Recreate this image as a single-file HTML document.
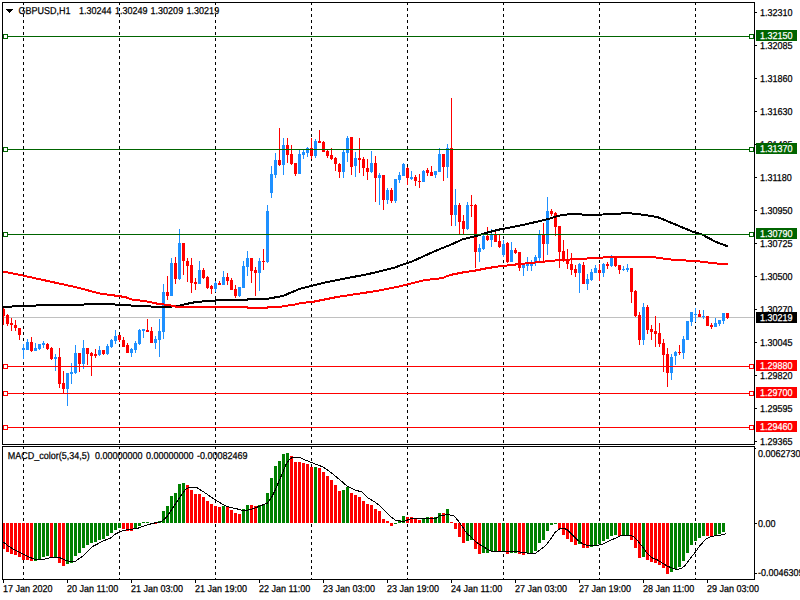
<!DOCTYPE html>
<html><head><meta charset="utf-8"><style>
html,body{margin:0;padding:0;background:#fff;width:800px;height:600px;overflow:hidden}
svg{display:block}
text{font-family:"Liberation Sans",sans-serif;font-size:10px;stroke:currentColor;stroke-width:0.25px;text-rendering:geometricPrecision}
</style></head><body>
<svg width="800" height="600" viewBox="0 0 800 600" shape-rendering="crispEdges">
<rect x="0" y="0" width="800" height="600" fill="#fff"/>
<line x1="23.5" y1="2" x2="23.5" y2="579" stroke="#000" stroke-width="1" stroke-dasharray="3 3"/>
<line x1="119.5" y1="2" x2="119.5" y2="579" stroke="#000" stroke-width="1" stroke-dasharray="3 3"/>
<line x1="215.5" y1="2" x2="215.5" y2="579" stroke="#000" stroke-width="1" stroke-dasharray="3 3"/>
<line x1="311.5" y1="2" x2="311.5" y2="579" stroke="#000" stroke-width="1" stroke-dasharray="3 3"/>
<line x1="407.5" y1="2" x2="407.5" y2="579" stroke="#000" stroke-width="1" stroke-dasharray="3 3"/>
<line x1="503.5" y1="2" x2="503.5" y2="579" stroke="#000" stroke-width="1" stroke-dasharray="3 3"/>
<line x1="599.5" y1="2" x2="599.5" y2="579" stroke="#000" stroke-width="1" stroke-dasharray="3 3"/>
<line x1="695.5" y1="2" x2="695.5" y2="579" stroke="#000" stroke-width="1" stroke-dasharray="3 3"/>
<rect x="3" y="317" width="751" height="1" fill="#C0C0C0"/>
<rect x="3" y="308.0" width="1" height="17.0" fill="#FF0000"/>
<rect x="2" y="309.0" width="3" height="7.0" fill="#FF0000"/>
<rect x="7" y="314.0" width="1" height="12.0" fill="#FF0000"/>
<rect x="6" y="315.0" width="3" height="9.0" fill="#FF0000"/>
<rect x="11" y="318.0" width="1" height="13.0" fill="#FF0000"/>
<rect x="10" y="323.0" width="3" height="2.0" fill="#FF0000"/>
<rect x="15" y="320.0" width="1" height="11.0" fill="#FF0000"/>
<rect x="14" y="325.0" width="3" height="3.0" fill="#FF0000"/>
<rect x="19" y="328.0" width="1" height="12.0" fill="#FF0000"/>
<rect x="18" y="328.0" width="3" height="7.0" fill="#FF0000"/>
<rect x="23" y="344.0" width="1" height="15.0" fill="#1E90FF"/>
<rect x="22" y="348.0" width="3" height="2.0" fill="#1E90FF"/>
<rect x="27" y="339.0" width="1" height="11.0" fill="#1E90FF"/>
<rect x="26" y="342.0" width="3" height="8.0" fill="#1E90FF"/>
<rect x="31" y="337.0" width="1" height="15.0" fill="#FF0000"/>
<rect x="30" y="342.0" width="3" height="9.0" fill="#FF0000"/>
<rect x="35" y="343.0" width="1" height="8.0" fill="#1E90FF"/>
<rect x="34" y="348.0" width="3" height="3.0" fill="#1E90FF"/>
<rect x="39" y="344.0" width="1" height="6.0" fill="#1E90FF"/>
<rect x="38" y="344.0" width="3" height="5.0" fill="#1E90FF"/>
<rect x="43" y="341.0" width="1" height="7.0" fill="#1E90FF"/>
<rect x="42" y="343.0" width="3" height="2.0" fill="#1E90FF"/>
<rect x="47" y="343.0" width="1" height="7.0" fill="#FF0000"/>
<rect x="46" y="344.0" width="3" height="5.0" fill="#FF0000"/>
<rect x="51" y="347.0" width="1" height="13.0" fill="#FF0000"/>
<rect x="50" y="348.0" width="3" height="11.0" fill="#FF0000"/>
<rect x="55" y="354.0" width="1" height="17.0" fill="#1E90FF"/>
<rect x="54" y="357.0" width="3" height="2.0" fill="#1E90FF"/>
<rect x="59" y="348.0" width="1" height="40.0" fill="#FF0000"/>
<rect x="58" y="357.0" width="3" height="27.0" fill="#FF0000"/>
<rect x="63" y="371.0" width="1" height="22.0" fill="#FF0000"/>
<rect x="62" y="383.0" width="3" height="6.0" fill="#FF0000"/>
<rect x="67" y="373.0" width="1" height="33.0" fill="#1E90FF"/>
<rect x="66" y="373.0" width="3" height="16.0" fill="#1E90FF"/>
<rect x="71" y="363.0" width="1" height="21.0" fill="#1E90FF"/>
<rect x="70" y="372.0" width="3" height="2.0" fill="#1E90FF"/>
<rect x="75" y="345.0" width="1" height="29.0" fill="#1E90FF"/>
<rect x="74" y="353.0" width="3" height="20.0" fill="#1E90FF"/>
<rect x="79" y="353.0" width="1" height="19.0" fill="#FF0000"/>
<rect x="78" y="353.0" width="3" height="11.0" fill="#FF0000"/>
<rect x="83" y="340.0" width="1" height="29.0" fill="#1E90FF"/>
<rect x="82" y="348.0" width="3" height="16.0" fill="#1E90FF"/>
<rect x="87" y="348.0" width="1" height="17.0" fill="#FF0000"/>
<rect x="86" y="348.0" width="3" height="6.0" fill="#FF0000"/>
<rect x="91" y="352.0" width="1" height="24.0" fill="#FF0000"/>
<rect x="90" y="353.0" width="3" height="3.0" fill="#FF0000"/>
<rect x="95" y="349.0" width="1" height="9.0" fill="#FF0000"/>
<rect x="94" y="354.0" width="3" height="2.0" fill="#FF0000"/>
<rect x="99" y="346.0" width="1" height="10.0" fill="#1E90FF"/>
<rect x="98" y="350.0" width="3" height="5.0" fill="#1E90FF"/>
<rect x="103" y="350.0" width="1" height="5.0" fill="#FF0000"/>
<rect x="102" y="350.0" width="3" height="4.0" fill="#FF0000"/>
<rect x="107" y="344.0" width="1" height="11.0" fill="#1E90FF"/>
<rect x="106" y="346.0" width="3" height="8.0" fill="#1E90FF"/>
<rect x="111" y="339.0" width="1" height="9.0" fill="#1E90FF"/>
<rect x="110" y="340.0" width="3" height="7.0" fill="#1E90FF"/>
<rect x="115" y="330.0" width="1" height="14.0" fill="#1E90FF"/>
<rect x="114" y="336.0" width="3" height="5.0" fill="#1E90FF"/>
<rect x="119" y="335.0" width="1" height="7.0" fill="#FF0000"/>
<rect x="118" y="335.0" width="3" height="5.0" fill="#FF0000"/>
<rect x="123" y="337.0" width="1" height="10.0" fill="#FF0000"/>
<rect x="122" y="340.0" width="3" height="7.0" fill="#FF0000"/>
<rect x="127" y="343.0" width="1" height="10.0" fill="#FF0000"/>
<rect x="126" y="345.0" width="3" height="8.0" fill="#FF0000"/>
<rect x="131" y="348.0" width="1" height="9.0" fill="#1E90FF"/>
<rect x="130" y="349.0" width="3" height="4.0" fill="#1E90FF"/>
<rect x="135" y="341.0" width="1" height="12.0" fill="#1E90FF"/>
<rect x="134" y="343.0" width="3" height="7.0" fill="#1E90FF"/>
<rect x="139" y="329.0" width="1" height="16.0" fill="#1E90FF"/>
<rect x="138" y="330.0" width="3" height="14.0" fill="#1E90FF"/>
<rect x="143" y="329.0" width="1" height="9.0" fill="#1E90FF"/>
<rect x="142" y="329.0" width="3" height="2.0" fill="#1E90FF"/>
<rect x="147" y="319.0" width="1" height="13.0" fill="#FF0000"/>
<rect x="146" y="330.0" width="3" height="2.0" fill="#FF0000"/>
<rect x="151" y="327.0" width="1" height="16.0" fill="#FF0000"/>
<rect x="150" y="331.0" width="3" height="12.0" fill="#FF0000"/>
<rect x="155" y="336.0" width="1" height="13.0" fill="#1E90FF"/>
<rect x="154" y="339.0" width="3" height="4.0" fill="#1E90FF"/>
<rect x="159" y="319.0" width="1" height="38.0" fill="#1E90FF"/>
<rect x="158" y="331.0" width="3" height="9.0" fill="#1E90FF"/>
<rect x="163" y="284.0" width="1" height="55.0" fill="#1E90FF"/>
<rect x="162" y="292.0" width="3" height="40.0" fill="#1E90FF"/>
<rect x="167" y="276.0" width="1" height="24.0" fill="#FF0000"/>
<rect x="166" y="292.0" width="3" height="4.0" fill="#FF0000"/>
<rect x="171" y="258.0" width="1" height="38.0" fill="#1E90FF"/>
<rect x="170" y="263.0" width="3" height="33.0" fill="#1E90FF"/>
<rect x="175" y="257.0" width="1" height="27.0" fill="#FF0000"/>
<rect x="174" y="263.0" width="3" height="16.0" fill="#FF0000"/>
<rect x="179" y="229.0" width="1" height="51.0" fill="#1E90FF"/>
<rect x="178" y="243.0" width="3" height="36.0" fill="#1E90FF"/>
<rect x="183" y="243.0" width="1" height="32.0" fill="#FF0000"/>
<rect x="182" y="243.0" width="3" height="18.0" fill="#FF0000"/>
<rect x="187" y="258.0" width="1" height="24.0" fill="#FF0000"/>
<rect x="186" y="261.0" width="3" height="5.0" fill="#FF0000"/>
<rect x="191" y="258.0" width="1" height="35.0" fill="#FF0000"/>
<rect x="190" y="265.0" width="3" height="18.0" fill="#FF0000"/>
<rect x="195" y="278.0" width="1" height="12.0" fill="#FF0000"/>
<rect x="194" y="282.0" width="3" height="2.0" fill="#FF0000"/>
<rect x="199" y="261.0" width="1" height="23.0" fill="#1E90FF"/>
<rect x="198" y="270.0" width="3" height="14.0" fill="#1E90FF"/>
<rect x="203" y="268.0" width="1" height="11.0" fill="#FF0000"/>
<rect x="202" y="270.0" width="3" height="8.0" fill="#FF0000"/>
<rect x="207" y="276.0" width="1" height="13.0" fill="#FF0000"/>
<rect x="206" y="277.0" width="3" height="11.0" fill="#FF0000"/>
<rect x="211" y="285.0" width="1" height="9.0" fill="#FF0000"/>
<rect x="210" y="286.0" width="3" height="3.0" fill="#FF0000"/>
<rect x="215" y="281.0" width="1" height="11.0" fill="#1E90FF"/>
<rect x="214" y="283.0" width="3" height="6.0" fill="#1E90FF"/>
<rect x="219" y="281.0" width="1" height="4.0" fill="#FF0000"/>
<rect x="218" y="283.0" width="3" height="2.0" fill="#FF0000"/>
<rect x="223" y="271.0" width="1" height="14.0" fill="#1E90FF"/>
<rect x="222" y="277.0" width="3" height="8.0" fill="#1E90FF"/>
<rect x="227" y="273.0" width="1" height="12.0" fill="#FF0000"/>
<rect x="226" y="277.0" width="3" height="4.0" fill="#FF0000"/>
<rect x="231" y="278.0" width="1" height="12.0" fill="#FF0000"/>
<rect x="230" y="280.0" width="3" height="10.0" fill="#FF0000"/>
<rect x="235" y="285.0" width="1" height="13.0" fill="#FF0000"/>
<rect x="234" y="289.0" width="3" height="7.0" fill="#FF0000"/>
<rect x="239" y="287.0" width="1" height="10.0" fill="#1E90FF"/>
<rect x="238" y="287.0" width="3" height="9.0" fill="#1E90FF"/>
<rect x="243" y="261.0" width="1" height="27.0" fill="#1E90FF"/>
<rect x="242" y="266.0" width="3" height="22.0" fill="#1E90FF"/>
<rect x="247" y="251.0" width="1" height="25.0" fill="#1E90FF"/>
<rect x="246" y="258.0" width="3" height="9.0" fill="#1E90FF"/>
<rect x="251" y="258.0" width="1" height="25.0" fill="#FF0000"/>
<rect x="250" y="258.0" width="3" height="13.0" fill="#FF0000"/>
<rect x="255" y="267.0" width="1" height="29.0" fill="#FF0000"/>
<rect x="254" y="270.0" width="3" height="3.0" fill="#FF0000"/>
<rect x="259" y="258.0" width="1" height="33.0" fill="#1E90FF"/>
<rect x="258" y="261.0" width="3" height="12.0" fill="#1E90FF"/>
<rect x="263" y="249.0" width="1" height="21.0" fill="#FF0000"/>
<rect x="262" y="261.0" width="3" height="1" fill="#FF0000"/>
<rect x="267" y="205.0" width="1" height="58.0" fill="#1E90FF"/>
<rect x="266" y="211.0" width="3" height="51.0" fill="#1E90FF"/>
<rect x="271" y="166.0" width="1" height="32.0" fill="#1E90FF"/>
<rect x="270" y="174.0" width="3" height="19.0" fill="#1E90FF"/>
<rect x="275" y="153.0" width="1" height="25.0" fill="#1E90FF"/>
<rect x="274" y="160.0" width="3" height="15.0" fill="#1E90FF"/>
<rect x="279" y="128.0" width="1" height="38.0" fill="#FF0000"/>
<rect x="278" y="160.0" width="3" height="5.0" fill="#FF0000"/>
<rect x="283" y="138.0" width="1" height="37.0" fill="#1E90FF"/>
<rect x="282" y="145.0" width="3" height="20.0" fill="#1E90FF"/>
<rect x="287" y="138.0" width="1" height="25.0" fill="#FF0000"/>
<rect x="286" y="145.0" width="3" height="10.0" fill="#FF0000"/>
<rect x="291" y="145.0" width="1" height="20.0" fill="#FF0000"/>
<rect x="290" y="154.0" width="3" height="10.0" fill="#FF0000"/>
<rect x="295" y="163.0" width="1" height="13.0" fill="#FF0000"/>
<rect x="294" y="163.0" width="3" height="11.0" fill="#FF0000"/>
<rect x="299" y="150.0" width="1" height="24.0" fill="#1E90FF"/>
<rect x="298" y="154.0" width="3" height="20.0" fill="#1E90FF"/>
<rect x="303" y="150.0" width="1" height="9.0" fill="#1E90FF"/>
<rect x="302" y="152.0" width="3" height="3.0" fill="#1E90FF"/>
<rect x="307" y="147.0" width="1" height="10.0" fill="#1E90FF"/>
<rect x="306" y="148.0" width="3" height="5.0" fill="#1E90FF"/>
<rect x="311" y="138.0" width="1" height="21.0" fill="#FF0000"/>
<rect x="310" y="148.0" width="3" height="8.0" fill="#FF0000"/>
<rect x="315" y="139.0" width="1" height="19.0" fill="#1E90FF"/>
<rect x="314" y="141.0" width="3" height="15.0" fill="#1E90FF"/>
<rect x="319" y="130.0" width="1" height="13.0" fill="#FF0000"/>
<rect x="318" y="141.0" width="3" height="2.0" fill="#FF0000"/>
<rect x="323" y="141.0" width="1" height="11.0" fill="#FF0000"/>
<rect x="322" y="142.0" width="3" height="10.0" fill="#FF0000"/>
<rect x="327" y="150.0" width="1" height="8.0" fill="#FF0000"/>
<rect x="326" y="151.0" width="3" height="5.0" fill="#FF0000"/>
<rect x="331" y="148.0" width="1" height="12.0" fill="#FF0000"/>
<rect x="330" y="155.0" width="3" height="4.0" fill="#FF0000"/>
<rect x="335" y="157.0" width="1" height="14.0" fill="#FF0000"/>
<rect x="334" y="158.0" width="3" height="6.0" fill="#FF0000"/>
<rect x="339" y="163.0" width="1" height="15.0" fill="#FF0000"/>
<rect x="338" y="164.0" width="3" height="8.0" fill="#FF0000"/>
<rect x="343" y="150.0" width="1" height="28.0" fill="#1E90FF"/>
<rect x="342" y="152.0" width="3" height="20.0" fill="#1E90FF"/>
<rect x="347" y="136.0" width="1" height="26.0" fill="#1E90FF"/>
<rect x="346" y="138.0" width="3" height="15.0" fill="#1E90FF"/>
<rect x="351" y="137.0" width="1" height="38.0" fill="#FF0000"/>
<rect x="350" y="137.0" width="3" height="30.0" fill="#FF0000"/>
<rect x="355" y="152.0" width="1" height="25.0" fill="#1E90FF"/>
<rect x="354" y="158.0" width="3" height="8.0" fill="#1E90FF"/>
<rect x="359" y="138.0" width="1" height="35.0" fill="#FF0000"/>
<rect x="358" y="158.0" width="3" height="2.0" fill="#FF0000"/>
<rect x="363" y="157.0" width="1" height="19.0" fill="#FF0000"/>
<rect x="362" y="159.0" width="3" height="9.0" fill="#FF0000"/>
<rect x="367" y="159.0" width="1" height="21.0" fill="#FF0000"/>
<rect x="366" y="168.0" width="3" height="4.0" fill="#FF0000"/>
<rect x="371" y="151.0" width="1" height="22.0" fill="#1E90FF"/>
<rect x="370" y="163.0" width="3" height="9.0" fill="#1E90FF"/>
<rect x="375" y="156.0" width="1" height="46.0" fill="#FF0000"/>
<rect x="374" y="163.0" width="3" height="15.0" fill="#FF0000"/>
<rect x="379" y="173.0" width="1" height="32.0" fill="#1E90FF"/>
<rect x="378" y="175.0" width="3" height="3.0" fill="#1E90FF"/>
<rect x="383" y="175.0" width="1" height="35.0" fill="#FF0000"/>
<rect x="382" y="175.0" width="3" height="25.0" fill="#FF0000"/>
<rect x="387" y="188.0" width="1" height="16.0" fill="#1E90FF"/>
<rect x="386" y="190.0" width="3" height="10.0" fill="#1E90FF"/>
<rect x="391" y="188.0" width="1" height="15.0" fill="#FF0000"/>
<rect x="390" y="190.0" width="3" height="11.0" fill="#FF0000"/>
<rect x="395" y="179.0" width="1" height="24.0" fill="#1E90FF"/>
<rect x="394" y="179.0" width="3" height="22.0" fill="#1E90FF"/>
<rect x="399" y="172.0" width="1" height="11.0" fill="#1E90FF"/>
<rect x="398" y="175.0" width="3" height="5.0" fill="#1E90FF"/>
<rect x="403" y="163.0" width="1" height="13.0" fill="#1E90FF"/>
<rect x="402" y="164.0" width="3" height="12.0" fill="#1E90FF"/>
<rect x="407" y="167.0" width="1" height="18.0" fill="#FF0000"/>
<rect x="406" y="168.0" width="3" height="10.0" fill="#FF0000"/>
<rect x="411" y="171.0" width="1" height="9.0" fill="#1E90FF"/>
<rect x="410" y="177.0" width="3" height="2.0" fill="#1E90FF"/>
<rect x="415" y="175.0" width="1" height="11.0" fill="#FF0000"/>
<rect x="414" y="177.0" width="3" height="4.0" fill="#FF0000"/>
<rect x="419" y="174.0" width="1" height="14.0" fill="#FF0000"/>
<rect x="418" y="181.0" width="3" height="1" fill="#FF0000"/>
<rect x="423" y="170.0" width="1" height="12.0" fill="#1E90FF"/>
<rect x="422" y="171.0" width="3" height="11.0" fill="#1E90FF"/>
<rect x="427" y="168.0" width="1" height="8.0" fill="#FF0000"/>
<rect x="426" y="170.0" width="3" height="3.0" fill="#FF0000"/>
<rect x="431" y="166.0" width="1" height="10.0" fill="#FF0000"/>
<rect x="430" y="172.0" width="3" height="4.0" fill="#FF0000"/>
<rect x="435" y="171.0" width="1" height="7.0" fill="#1E90FF"/>
<rect x="434" y="171.0" width="3" height="4.0" fill="#1E90FF"/>
<rect x="439" y="148.0" width="1" height="24.0" fill="#1E90FF"/>
<rect x="438" y="154.0" width="3" height="18.0" fill="#1E90FF"/>
<rect x="443" y="154.0" width="1" height="27.0" fill="#FF0000"/>
<rect x="442" y="154.0" width="3" height="13.0" fill="#FF0000"/>
<rect x="447" y="144.0" width="1" height="34.0" fill="#1E90FF"/>
<rect x="446" y="148.0" width="3" height="19.0" fill="#1E90FF"/>
<rect x="451" y="98.0" width="1" height="128.0" fill="#FF0000"/>
<rect x="450" y="148.0" width="3" height="67.0" fill="#FF0000"/>
<rect x="455" y="189.0" width="1" height="37.0" fill="#1E90FF"/>
<rect x="454" y="205.0" width="3" height="10.0" fill="#1E90FF"/>
<rect x="459" y="203.0" width="1" height="31.0" fill="#FF0000"/>
<rect x="458" y="205.0" width="3" height="17.0" fill="#FF0000"/>
<rect x="463" y="215.0" width="1" height="19.0" fill="#FF0000"/>
<rect x="462" y="221.0" width="3" height="8.0" fill="#FF0000"/>
<rect x="467" y="202.0" width="1" height="28.0" fill="#1E90FF"/>
<rect x="466" y="205.0" width="3" height="24.0" fill="#1E90FF"/>
<rect x="471" y="195.0" width="1" height="22.0" fill="#FF0000"/>
<rect x="470" y="205.0" width="3" height="1" fill="#FF0000"/>
<rect x="475" y="204.0" width="1" height="64.0" fill="#FF0000"/>
<rect x="474" y="205.0" width="3" height="47.0" fill="#FF0000"/>
<rect x="479" y="244.0" width="1" height="18.0" fill="#1E90FF"/>
<rect x="478" y="248.0" width="3" height="4.0" fill="#1E90FF"/>
<rect x="483" y="235.0" width="1" height="15.0" fill="#1E90FF"/>
<rect x="482" y="236.0" width="3" height="13.0" fill="#1E90FF"/>
<rect x="487" y="227.0" width="1" height="14.0" fill="#FF0000"/>
<rect x="486" y="236.0" width="3" height="4.0" fill="#FF0000"/>
<rect x="491" y="229.0" width="1" height="18.0" fill="#1E90FF"/>
<rect x="490" y="235.0" width="3" height="5.0" fill="#1E90FF"/>
<rect x="495" y="231.0" width="1" height="11.0" fill="#FF0000"/>
<rect x="494" y="235.0" width="3" height="7.0" fill="#FF0000"/>
<rect x="499" y="235.0" width="1" height="13.0" fill="#FF0000"/>
<rect x="498" y="241.0" width="3" height="6.0" fill="#FF0000"/>
<rect x="503" y="240.0" width="1" height="17.0" fill="#1E90FF"/>
<rect x="502" y="244.0" width="3" height="11.0" fill="#1E90FF"/>
<rect x="507" y="242.0" width="1" height="21.0" fill="#FF0000"/>
<rect x="506" y="243.0" width="3" height="19.0" fill="#FF0000"/>
<rect x="511" y="242.0" width="1" height="20.0" fill="#1E90FF"/>
<rect x="510" y="250.0" width="3" height="12.0" fill="#1E90FF"/>
<rect x="515" y="248.0" width="1" height="6.0" fill="#FF0000"/>
<rect x="514" y="250.0" width="3" height="3.0" fill="#FF0000"/>
<rect x="519" y="252.0" width="1" height="19.0" fill="#FF0000"/>
<rect x="518" y="252.0" width="3" height="16.0" fill="#FF0000"/>
<rect x="523" y="263.0" width="1" height="13.0" fill="#1E90FF"/>
<rect x="522" y="265.0" width="3" height="3.0" fill="#1E90FF"/>
<rect x="527" y="257.0" width="1" height="14.0" fill="#1E90FF"/>
<rect x="526" y="263.0" width="3" height="3.0" fill="#1E90FF"/>
<rect x="531" y="260.0" width="1" height="11.0" fill="#1E90FF"/>
<rect x="530" y="263.0" width="3" height="3.0" fill="#1E90FF"/>
<rect x="535" y="255.0" width="1" height="11.0" fill="#1E90FF"/>
<rect x="534" y="257.0" width="3" height="6.0" fill="#1E90FF"/>
<rect x="539" y="230.0" width="1" height="31.0" fill="#1E90FF"/>
<rect x="538" y="234.0" width="3" height="24.0" fill="#1E90FF"/>
<rect x="543" y="223.0" width="1" height="38.0" fill="#FF0000"/>
<rect x="542" y="234.0" width="3" height="10.0" fill="#FF0000"/>
<rect x="547" y="197.0" width="1" height="58.0" fill="#1E90FF"/>
<rect x="546" y="211.0" width="3" height="33.0" fill="#1E90FF"/>
<rect x="551" y="209.0" width="1" height="7.0" fill="#FF0000"/>
<rect x="550" y="211.0" width="3" height="3.0" fill="#FF0000"/>
<rect x="555" y="212.0" width="1" height="24.0" fill="#FF0000"/>
<rect x="554" y="213.0" width="3" height="14.0" fill="#FF0000"/>
<rect x="559" y="226.0" width="1" height="42.0" fill="#FF0000"/>
<rect x="558" y="226.0" width="3" height="26.0" fill="#FF0000"/>
<rect x="563" y="240.0" width="1" height="22.0" fill="#FF0000"/>
<rect x="562" y="251.0" width="3" height="10.0" fill="#FF0000"/>
<rect x="567" y="249.0" width="1" height="20.0" fill="#FF0000"/>
<rect x="566" y="260.0" width="3" height="4.0" fill="#FF0000"/>
<rect x="571" y="253.0" width="1" height="22.0" fill="#FF0000"/>
<rect x="570" y="264.0" width="3" height="6.0" fill="#FF0000"/>
<rect x="575" y="265.0" width="1" height="12.0" fill="#FF0000"/>
<rect x="574" y="269.0" width="3" height="4.0" fill="#FF0000"/>
<rect x="579" y="263.0" width="1" height="30.0" fill="#1E90FF"/>
<rect x="578" y="264.0" width="3" height="9.0" fill="#1E90FF"/>
<rect x="583" y="262.0" width="1" height="22.0" fill="#FF0000"/>
<rect x="582" y="265.0" width="3" height="19.0" fill="#FF0000"/>
<rect x="587" y="274.0" width="1" height="16.0" fill="#1E90FF"/>
<rect x="586" y="279.0" width="3" height="5.0" fill="#1E90FF"/>
<rect x="591" y="269.0" width="1" height="12.0" fill="#1E90FF"/>
<rect x="590" y="272.0" width="3" height="8.0" fill="#1E90FF"/>
<rect x="595" y="265.0" width="1" height="8.0" fill="#1E90FF"/>
<rect x="594" y="268.0" width="3" height="5.0" fill="#1E90FF"/>
<rect x="599" y="264.0" width="1" height="17.0" fill="#FF0000"/>
<rect x="598" y="270.0" width="3" height="3.0" fill="#FF0000"/>
<rect x="603" y="263.0" width="1" height="14.0" fill="#1E90FF"/>
<rect x="602" y="264.0" width="3" height="9.0" fill="#1E90FF"/>
<rect x="607" y="262.0" width="1" height="7.0" fill="#FF0000"/>
<rect x="606" y="264.0" width="3" height="2.0" fill="#FF0000"/>
<rect x="611" y="255.0" width="1" height="12.0" fill="#1E90FF"/>
<rect x="610" y="258.0" width="3" height="8.0" fill="#1E90FF"/>
<rect x="615" y="257.0" width="1" height="10.0" fill="#FF0000"/>
<rect x="614" y="258.0" width="3" height="8.0" fill="#FF0000"/>
<rect x="619" y="265.0" width="1" height="9.0" fill="#FF0000"/>
<rect x="618" y="265.0" width="3" height="5.0" fill="#FF0000"/>
<rect x="623" y="266.0" width="1" height="5.0" fill="#1E90FF"/>
<rect x="622" y="269.0" width="3" height="1" fill="#1E90FF"/>
<rect x="627" y="264.0" width="1" height="8.0" fill="#1E90FF"/>
<rect x="626" y="268.0" width="3" height="2.0" fill="#1E90FF"/>
<rect x="631" y="268.0" width="1" height="35.0" fill="#FF0000"/>
<rect x="630" y="268.0" width="3" height="24.0" fill="#FF0000"/>
<rect x="635" y="290.0" width="1" height="27.0" fill="#FF0000"/>
<rect x="634" y="291.0" width="3" height="25.0" fill="#FF0000"/>
<rect x="639" y="312.0" width="1" height="33.0" fill="#FF0000"/>
<rect x="638" y="315.0" width="3" height="25.0" fill="#FF0000"/>
<rect x="643" y="303.0" width="1" height="42.0" fill="#1E90FF"/>
<rect x="642" y="307.0" width="3" height="33.0" fill="#1E90FF"/>
<rect x="647" y="305.0" width="1" height="29.0" fill="#FF0000"/>
<rect x="646" y="307.0" width="3" height="23.0" fill="#FF0000"/>
<rect x="651" y="325.0" width="1" height="15.0" fill="#FF0000"/>
<rect x="650" y="329.0" width="3" height="3.0" fill="#FF0000"/>
<rect x="655" y="316.0" width="1" height="31.0" fill="#FF0000"/>
<rect x="654" y="331.0" width="3" height="3.0" fill="#FF0000"/>
<rect x="659" y="323.0" width="1" height="24.0" fill="#FF0000"/>
<rect x="658" y="333.0" width="3" height="11.0" fill="#FF0000"/>
<rect x="663" y="339.0" width="1" height="33.0" fill="#FF0000"/>
<rect x="662" y="343.0" width="3" height="12.0" fill="#FF0000"/>
<rect x="667" y="348.0" width="1" height="39.0" fill="#FF0000"/>
<rect x="666" y="354.0" width="3" height="19.0" fill="#FF0000"/>
<rect x="671" y="354.0" width="1" height="26.0" fill="#1E90FF"/>
<rect x="670" y="357.0" width="3" height="16.0" fill="#1E90FF"/>
<rect x="675" y="351.0" width="1" height="14.0" fill="#1E90FF"/>
<rect x="674" y="352.0" width="3" height="4.0" fill="#1E90FF"/>
<rect x="679" y="345.0" width="1" height="10.0" fill="#FF0000"/>
<rect x="678" y="352.0" width="3" height="1" fill="#FF0000"/>
<rect x="683" y="336.0" width="1" height="23.0" fill="#1E90FF"/>
<rect x="682" y="339.0" width="3" height="14.0" fill="#1E90FF"/>
<rect x="687" y="321.0" width="1" height="19.0" fill="#1E90FF"/>
<rect x="686" y="321.0" width="3" height="19.0" fill="#1E90FF"/>
<rect x="691" y="312.0" width="1" height="14.0" fill="#1E90FF"/>
<rect x="690" y="312.0" width="3" height="10.0" fill="#1E90FF"/>
<rect x="695" y="308.0" width="1" height="14.0" fill="#1E90FF"/>
<rect x="694" y="314.0" width="3" height="1" fill="#1E90FF"/>
<rect x="699" y="310.0" width="1" height="7.0" fill="#FF0000"/>
<rect x="698" y="314.0" width="3" height="3.0" fill="#FF0000"/>
<rect x="703" y="310.0" width="1" height="9.0" fill="#1E90FF"/>
<rect x="702" y="316.0" width="3" height="1" fill="#1E90FF"/>
<rect x="707" y="316.0" width="1" height="10.0" fill="#FF0000"/>
<rect x="706" y="316.0" width="3" height="10.0" fill="#FF0000"/>
<rect x="711" y="323.0" width="1" height="6.0" fill="#FF0000"/>
<rect x="710" y="325.0" width="3" height="2.0" fill="#FF0000"/>
<rect x="715" y="318.0" width="1" height="9.0" fill="#1E90FF"/>
<rect x="714" y="323.0" width="3" height="4.0" fill="#1E90FF"/>
<rect x="719" y="320.0" width="1" height="6.0" fill="#1E90FF"/>
<rect x="718" y="320.0" width="3" height="4.0" fill="#1E90FF"/>
<rect x="723" y="313.0" width="1" height="11.0" fill="#1E90FF"/>
<rect x="722" y="313.0" width="3" height="8.0" fill="#1E90FF"/>
<rect x="727" y="313.0" width="1" height="6.0" fill="#FF0000"/>
<rect x="726" y="313.0" width="3" height="5.0" fill="#FF0000"/>
<polyline points="2,307 11.5,307 12.5,306 35.5,306 36.5,305 83.5,305 84.5,304 114.5,304 115.5,305 130.5,305 131.5,306 150.5,306 151.5,307 171,307 172,306 178,306 186,304 196,302 207.5,301 215,301 216,300 247,300 248,299 267,299 271,298 278,297 284,295.5 291,292.5 300,288.75 312.5,285.6 325,282.5 337.5,280 350,277.5 362.5,275.25 375,272.5 387.5,269.4 395,267.5 400,265.6 412.5,261.25 425,255.6 437.5,250 450,245 462.5,239.4 475,236.25 487.5,232.5 500,229.4 512.5,227 525,224.5 537.5,221.6 550,218.5 556,216.5 562,215 571.5,214 591.5,215 614,214 627.5,213 637,214 645,215 651,216 657.5,217 675,224.3 693,231.8 702,234.5 715.5,241.7 728,246.5" fill="none" stroke="#000" stroke-width="2" stroke-linejoin="round"/>
<polyline points="2,272 5,272 11,273 25,276 50,281.5 75,287 100,293.5 111,295 125,297 132,299.5 151,302 153.5,303 159.5,304 167.5,305 174,306 177,307 247,307 248,308 267,308 268,307 279,307 284.5,306 292.5,305 298,304 300,303.1 312.5,301.9 325,299.4 337.5,296.9 350,295 362.5,293.1 375,291.25 387.5,288.75 400,286.25 412.5,283.1 425,280 437.5,278.75 443.75,277.5 450,275 462.5,272.5 475,270.6 487.5,268.1 500,266.25 520,264 540,262 560,260 580,259 600,257.6 620,257 651,256.7 663,258.5 675,260 696,261 708,262.5 720,263.8 728,263.8" fill="none" stroke="#FF0000" stroke-width="2" stroke-linejoin="round"/>
<rect x="3" y="36" width="751" height="1" fill="#006400"/>
<rect x="3.5" y="34.5" width="4" height="4" fill="#fff" stroke="#006400" stroke-width="1"/>
<rect x="749.5" y="34.5" width="4" height="4" fill="#fff" stroke="#006400" stroke-width="1"/>
<rect x="3" y="149" width="751" height="1" fill="#006400"/>
<rect x="3.5" y="147.5" width="4" height="4" fill="#fff" stroke="#006400" stroke-width="1"/>
<rect x="749.5" y="147.5" width="4" height="4" fill="#fff" stroke="#006400" stroke-width="1"/>
<rect x="3" y="234" width="751" height="1" fill="#006400"/>
<rect x="3.5" y="232.5" width="4" height="4" fill="#fff" stroke="#006400" stroke-width="1"/>
<rect x="749.5" y="232.5" width="4" height="4" fill="#fff" stroke="#006400" stroke-width="1"/>
<rect x="3" y="366" width="751" height="1" fill="#FF0000"/>
<rect x="3.5" y="364.5" width="4" height="4" fill="#fff" stroke="#FF0000" stroke-width="1"/>
<rect x="749.5" y="364.5" width="4" height="4" fill="#fff" stroke="#FF0000" stroke-width="1"/>
<rect x="3" y="393" width="751" height="1" fill="#FF0000"/>
<rect x="3.5" y="391.5" width="4" height="4" fill="#fff" stroke="#FF0000" stroke-width="1"/>
<rect x="749.5" y="391.5" width="4" height="4" fill="#fff" stroke="#FF0000" stroke-width="1"/>
<rect x="3" y="427" width="751" height="1" fill="#FF0000"/>
<rect x="3.5" y="425.5" width="4" height="4" fill="#fff" stroke="#FF0000" stroke-width="1"/>
<rect x="749.5" y="425.5" width="4" height="4" fill="#fff" stroke="#FF0000" stroke-width="1"/>
<rect x="2" y="523" width="3" height="26.0" fill="#FF0000"/>
<rect x="6" y="523" width="3" height="29.0" fill="#FF0000"/>
<rect x="10" y="523" width="3" height="31.0" fill="#FF0000"/>
<rect x="14" y="523" width="3" height="32.0" fill="#FF0000"/>
<rect x="18" y="523" width="3" height="34.0" fill="#FF0000"/>
<rect x="22" y="523" width="3" height="37.0" fill="#FF0000"/>
<rect x="26" y="523" width="3" height="37.0" fill="#FF0000"/>
<rect x="30" y="523" width="3" height="38.0" fill="#FF0000"/>
<rect x="34" y="523" width="3" height="38.0" fill="#008000"/>
<rect x="38" y="523" width="3" height="36.0" fill="#008000"/>
<rect x="42" y="523" width="3" height="34.0" fill="#008000"/>
<rect x="46" y="523" width="3" height="33.0" fill="#008000"/>
<rect x="50" y="523" width="3" height="34.0" fill="#FF0000"/>
<rect x="54" y="523" width="3" height="34.0" fill="#008000"/>
<rect x="58" y="523" width="3" height="40.0" fill="#FF0000"/>
<rect x="62" y="523" width="3" height="43.0" fill="#FF0000"/>
<rect x="66" y="523" width="3" height="41.0" fill="#008000"/>
<rect x="70" y="523" width="3" height="40.0" fill="#008000"/>
<rect x="74" y="523" width="3" height="33.0" fill="#008000"/>
<rect x="78" y="523" width="3" height="30.0" fill="#008000"/>
<rect x="82" y="523" width="3" height="25.0" fill="#008000"/>
<rect x="86" y="523" width="3" height="22.0" fill="#008000"/>
<rect x="90" y="523" width="3" height="20.0" fill="#008000"/>
<rect x="94" y="523" width="3" height="19.0" fill="#008000"/>
<rect x="98" y="523" width="3" height="17.0" fill="#008000"/>
<rect x="102" y="523" width="3" height="16.0" fill="#008000"/>
<rect x="106" y="523" width="3" height="13.0" fill="#008000"/>
<rect x="110" y="523" width="3" height="10.0" fill="#008000"/>
<rect x="114" y="523" width="3" height="7.0" fill="#008000"/>
<rect x="118" y="523" width="3" height="5.0" fill="#008000"/>
<rect x="122" y="523" width="3" height="6.0" fill="#FF0000"/>
<rect x="126" y="523" width="3" height="8.0" fill="#FF0000"/>
<rect x="130" y="523" width="3" height="8.0" fill="#FF0000"/>
<rect x="134" y="523" width="3" height="6.0" fill="#008000"/>
<rect x="138" y="523" width="3" height="3.0" fill="#008000"/>
<rect x="142" y="522.0" width="3" height="1" fill="#008000"/>
<rect x="146" y="522.0" width="3" height="1" fill="#008000"/>
<rect x="150" y="523" width="3" height="1" fill="#FF0000"/>
<rect x="154" y="523" width="3" height="1" fill="#FF0000"/>
<rect x="158" y="521.0" width="3" height="2.0" fill="#008000"/>
<rect x="162" y="511.0" width="3" height="12.0" fill="#008000"/>
<rect x="166" y="506.0" width="3" height="17.0" fill="#008000"/>
<rect x="170" y="496.0" width="3" height="27.0" fill="#008000"/>
<rect x="174" y="493.0" width="3" height="30.0" fill="#008000"/>
<rect x="178" y="484.0" width="3" height="39.0" fill="#008000"/>
<rect x="182" y="483.0" width="3" height="40.0" fill="#008000"/>
<rect x="186" y="485.0" width="3" height="38.0" fill="#FF0000"/>
<rect x="190" y="490.0" width="3" height="33.0" fill="#FF0000"/>
<rect x="194" y="494.0" width="3" height="29.0" fill="#FF0000"/>
<rect x="198" y="494.0" width="3" height="29.0" fill="#FF0000"/>
<rect x="202" y="497.0" width="3" height="26.0" fill="#FF0000"/>
<rect x="206" y="501.0" width="3" height="22.0" fill="#FF0000"/>
<rect x="210" y="504.0" width="3" height="19.0" fill="#FF0000"/>
<rect x="214" y="506.0" width="3" height="17.0" fill="#FF0000"/>
<rect x="218" y="507.0" width="3" height="16.0" fill="#FF0000"/>
<rect x="222" y="506.0" width="3" height="17.0" fill="#008000"/>
<rect x="226" y="507.0" width="3" height="16.0" fill="#FF0000"/>
<rect x="230" y="510.0" width="3" height="13.0" fill="#FF0000"/>
<rect x="234" y="513.0" width="3" height="10.0" fill="#FF0000"/>
<rect x="238" y="514.0" width="3" height="9.0" fill="#FF0000"/>
<rect x="242" y="509.0" width="3" height="14.0" fill="#008000"/>
<rect x="246" y="505.0" width="3" height="18.0" fill="#008000"/>
<rect x="250" y="505.0" width="3" height="18.0" fill="#FF0000"/>
<rect x="254" y="506.0" width="3" height="17.0" fill="#FF0000"/>
<rect x="258" y="505.0" width="3" height="18.0" fill="#008000"/>
<rect x="262" y="504.0" width="3" height="19.0" fill="#008000"/>
<rect x="266" y="493.0" width="3" height="30.0" fill="#008000"/>
<rect x="270" y="478.0" width="3" height="45.0" fill="#008000"/>
<rect x="274" y="466.0" width="3" height="57.0" fill="#008000"/>
<rect x="278" y="461.0" width="3" height="62.0" fill="#008000"/>
<rect x="282" y="454.0" width="3" height="69.0" fill="#008000"/>
<rect x="286" y="453.0" width="3" height="70.0" fill="#008000"/>
<rect x="290" y="456.0" width="3" height="67.0" fill="#FF0000"/>
<rect x="294" y="462.0" width="3" height="61.0" fill="#FF0000"/>
<rect x="298" y="462.0" width="3" height="61.0" fill="#FF0000"/>
<rect x="302" y="463.0" width="3" height="60.0" fill="#FF0000"/>
<rect x="306" y="464.0" width="3" height="59.0" fill="#FF0000"/>
<rect x="310" y="467.0" width="3" height="56.0" fill="#FF0000"/>
<rect x="314" y="467.0" width="3" height="56.0" fill="#008000"/>
<rect x="318" y="468.0" width="3" height="55.0" fill="#FF0000"/>
<rect x="322" y="472.0" width="3" height="51.0" fill="#FF0000"/>
<rect x="326" y="476.0" width="3" height="47.0" fill="#FF0000"/>
<rect x="330" y="480.0" width="3" height="43.0" fill="#FF0000"/>
<rect x="334" y="485.0" width="3" height="38.0" fill="#FF0000"/>
<rect x="338" y="491.0" width="3" height="32.0" fill="#FF0000"/>
<rect x="342" y="490.0" width="3" height="33.0" fill="#008000"/>
<rect x="346" y="487.0" width="3" height="36.0" fill="#008000"/>
<rect x="350" y="493.0" width="3" height="30.0" fill="#FF0000"/>
<rect x="354" y="495.0" width="3" height="28.0" fill="#FF0000"/>
<rect x="358" y="497.0" width="3" height="26.0" fill="#FF0000"/>
<rect x="362" y="501.0" width="3" height="22.0" fill="#FF0000"/>
<rect x="366" y="504.0" width="3" height="19.0" fill="#FF0000"/>
<rect x="370" y="505.0" width="3" height="18.0" fill="#FF0000"/>
<rect x="374" y="509.0" width="3" height="14.0" fill="#FF0000"/>
<rect x="378" y="511.0" width="3" height="12.0" fill="#FF0000"/>
<rect x="382" y="519.0" width="3" height="4.0" fill="#FF0000"/>
<rect x="386" y="521.0" width="3" height="2.0" fill="#FF0000"/>
<rect x="390" y="523" width="3" height="3.0" fill="#FF0000"/>
<rect x="394" y="523" width="3" height="1" fill="#008000"/>
<rect x="398" y="520.0" width="3" height="3.0" fill="#008000"/>
<rect x="402" y="516.0" width="3" height="7.0" fill="#008000"/>
<rect x="406" y="517.0" width="3" height="6.0" fill="#FF0000"/>
<rect x="410" y="517.0" width="3" height="6.0" fill="#FF0000"/>
<rect x="414" y="519.0" width="3" height="4.0" fill="#FF0000"/>
<rect x="418" y="520.0" width="3" height="3.0" fill="#FF0000"/>
<rect x="422" y="519.0" width="3" height="4.0" fill="#008000"/>
<rect x="426" y="517.0" width="3" height="6.0" fill="#008000"/>
<rect x="430" y="517.0" width="3" height="6.0" fill="#FF0000"/>
<rect x="434" y="517.0" width="3" height="6.0" fill="#008000"/>
<rect x="438" y="513.0" width="3" height="10.0" fill="#008000"/>
<rect x="442" y="513.0" width="3" height="10.0" fill="#FF0000"/>
<rect x="446" y="509.0" width="3" height="14.0" fill="#008000"/>
<rect x="450" y="522.0" width="3" height="1" fill="#FF0000"/>
<rect x="454" y="523" width="3" height="6.0" fill="#FF0000"/>
<rect x="458" y="523" width="3" height="14.0" fill="#FF0000"/>
<rect x="462" y="523" width="3" height="20.0" fill="#FF0000"/>
<rect x="466" y="523" width="3" height="18.0" fill="#008000"/>
<rect x="470" y="523" width="3" height="17.0" fill="#008000"/>
<rect x="474" y="523" width="3" height="26.0" fill="#FF0000"/>
<rect x="478" y="523" width="3" height="31.0" fill="#FF0000"/>
<rect x="482" y="523" width="3" height="30.0" fill="#008000"/>
<rect x="486" y="523" width="3" height="30.0" fill="#008000"/>
<rect x="490" y="523" width="3" height="28.0" fill="#008000"/>
<rect x="494" y="523" width="3" height="28.0" fill="#008000"/>
<rect x="498" y="523" width="3" height="28.0" fill="#FF0000"/>
<rect x="502" y="523" width="3" height="28.0" fill="#008000"/>
<rect x="506" y="523" width="3" height="31.0" fill="#FF0000"/>
<rect x="510" y="523" width="3" height="30.0" fill="#008000"/>
<rect x="514" y="523" width="3" height="30.0" fill="#008000"/>
<rect x="518" y="523" width="3" height="31.0" fill="#FF0000"/>
<rect x="522" y="523" width="3" height="32.0" fill="#FF0000"/>
<rect x="526" y="523" width="3" height="30.0" fill="#008000"/>
<rect x="530" y="523" width="3" height="30.0" fill="#008000"/>
<rect x="534" y="523" width="3" height="28.0" fill="#008000"/>
<rect x="538" y="523" width="3" height="20.0" fill="#008000"/>
<rect x="542" y="523" width="3" height="17.0" fill="#008000"/>
<rect x="546" y="523" width="3" height="8.0" fill="#008000"/>
<rect x="550" y="523" width="3" height="2.0" fill="#008000"/>
<rect x="554" y="523" width="3" height="1" fill="#008000"/>
<rect x="558" y="523" width="3" height="6.0" fill="#FF0000"/>
<rect x="562" y="523" width="3" height="12.0" fill="#FF0000"/>
<rect x="566" y="523" width="3" height="16.0" fill="#FF0000"/>
<rect x="570" y="523" width="3" height="19.0" fill="#FF0000"/>
<rect x="574" y="523" width="3" height="22.0" fill="#FF0000"/>
<rect x="578" y="523" width="3" height="21.0" fill="#008000"/>
<rect x="582" y="523" width="3" height="25.0" fill="#FF0000"/>
<rect x="586" y="523" width="3" height="25.0" fill="#FF0000"/>
<rect x="590" y="523" width="3" height="24.0" fill="#008000"/>
<rect x="594" y="523" width="3" height="22.0" fill="#008000"/>
<rect x="598" y="523" width="3" height="21.0" fill="#008000"/>
<rect x="602" y="523" width="3" height="18.0" fill="#008000"/>
<rect x="606" y="523" width="3" height="16.0" fill="#008000"/>
<rect x="610" y="523" width="3" height="13.0" fill="#008000"/>
<rect x="614" y="523" width="3" height="12.0" fill="#008000"/>
<rect x="618" y="523" width="3" height="13.0" fill="#FF0000"/>
<rect x="622" y="523" width="3" height="12.0" fill="#008000"/>
<rect x="626" y="523" width="3" height="12.0" fill="#008000"/>
<rect x="630" y="523" width="3" height="17.0" fill="#FF0000"/>
<rect x="634" y="523" width="3" height="25.0" fill="#FF0000"/>
<rect x="638" y="523" width="3" height="35.0" fill="#FF0000"/>
<rect x="642" y="523" width="3" height="34.0" fill="#008000"/>
<rect x="646" y="523" width="3" height="37.0" fill="#FF0000"/>
<rect x="650" y="523" width="3" height="39.0" fill="#FF0000"/>
<rect x="654" y="523" width="3" height="40.0" fill="#FF0000"/>
<rect x="658" y="523" width="3" height="42.0" fill="#FF0000"/>
<rect x="662" y="523" width="3" height="45.0" fill="#FF0000"/>
<rect x="666" y="523" width="3" height="51.0" fill="#FF0000"/>
<rect x="670" y="523" width="3" height="49.0" fill="#008000"/>
<rect x="674" y="523" width="3" height="46.0" fill="#008000"/>
<rect x="678" y="523" width="3" height="44.0" fill="#008000"/>
<rect x="682" y="523" width="3" height="38.0" fill="#008000"/>
<rect x="686" y="523" width="3" height="30.0" fill="#008000"/>
<rect x="690" y="523" width="3" height="22.0" fill="#008000"/>
<rect x="694" y="523" width="3" height="18.0" fill="#008000"/>
<rect x="698" y="523" width="3" height="15.0" fill="#008000"/>
<rect x="702" y="523" width="3" height="13.0" fill="#008000"/>
<rect x="706" y="523" width="3" height="13.0" fill="#FF0000"/>
<rect x="710" y="523" width="3" height="13.0" fill="#FF0000"/>
<rect x="714" y="523" width="3" height="12.0" fill="#008000"/>
<rect x="718" y="523" width="3" height="11.0" fill="#008000"/>
<rect x="722" y="523" width="3" height="9.0" fill="#008000"/>
<polyline points="2,541 8.25,546 13.75,549.4 22,553.5 27.5,556.25 34.4,559.3 44,559.3 50.9,557.4 59.1,557.4 64.6,559.7 70.1,562 75.6,561.1 82.5,556.25 89.4,549.4 93.5,546 99,543.2 104.5,540.4 110,538.4 115.75,533.9 121,531.3 128,529.5 136.75,528.7 143.8,526 152.5,523.4 161.3,521.7 166.5,517.3 173.5,506.8 180.5,496.3 186,489 189,487.6 196.3,487.2 205,492.8 213.8,498.9 222.6,504.2 225,505.6 230,507.4 236.25,508.6 242.5,510.5 248.75,509.9 255,508 261.25,505.5 267.5,503 271.25,498 275,490.5 278.75,481.75 282.5,473 286.25,464 290,459 292.5,457.4 300,457.4 305,459.9 311.25,462.4 317.5,464.9 322.5,466.75 330,471.75 340,480 347,486 355,490 362,492 368,498 375,502 380,506 385,511 390,516 395,520 400,521 405,521 410,519 420,518 436,518.5 440,515.4 448.3,514.8 452.5,515.4 455,516.7 457.5,520 460,523.3 462.5,526.7 465,530.8 467.5,534.2 470,536.25 473.3,539.2 476.7,542.5 480,544.6 483.3,546.7 486.7,548.75 490,550.8 491.7,551.25 500,551.3 515,551.3 520,552 530,553.5 535,553.5 540,550 545,546.25 550,540 555,532.5 560,528.5 563.75,528.1 567.5,530 572.5,535 577.5,540 582.5,543.75 587.5,545.4 597.5,545.4 602.5,544.1 607.5,541.9 612.5,539.4 617.5,537.25 622.5,535 630,535 633.75,536.9 637.5,540.6 642.5,546.9 647.5,553.75 652.5,558.1 657.5,560 662.5,563.1 667.5,566.25 672.5,568.1 676.25,569.4 681.25,568.75 685,565.6 690,558.75 695,552.5 700,545.6 705,540 708.75,537.25 712.5,536.25 717.5,535.4 721.25,535 726.5,533.5" fill="none" stroke="#000" stroke-width="1" stroke-linejoin="round"/>
<rect x="2.5" y="2.5" width="752" height="442" fill="none" stroke="#000" stroke-width="1"/>
<rect x="2.5" y="446.5" width="752" height="133" fill="none" stroke="#000" stroke-width="1"/>
<rect x="0" y="0" width="2" height="600" fill="#fff"/>
<rect x="755" y="12" width="2" height="1" fill="#000"/>
<text transform="translate(760,16) scale(0.9,1)" fill="#000" style="color:#000" text-anchor="start">1.32310</text>
<rect x="755" y="45" width="2" height="1" fill="#000"/>
<text transform="translate(760,49) scale(0.9,1)" fill="#000" style="color:#000" text-anchor="start">1.32085</text>
<rect x="755" y="78" width="2" height="1" fill="#000"/>
<text transform="translate(760,82) scale(0.9,1)" fill="#000" style="color:#000" text-anchor="start">1.31860</text>
<rect x="755" y="111" width="2" height="1" fill="#000"/>
<text transform="translate(760,115) scale(0.9,1)" fill="#000" style="color:#000" text-anchor="start">1.31630</text>
<rect x="755" y="144" width="2" height="1" fill="#000"/>
<text transform="translate(760,148) scale(0.9,1)" fill="#000" style="color:#000" text-anchor="start">1.31405</text>
<rect x="755" y="177" width="2" height="1" fill="#000"/>
<text transform="translate(760,181) scale(0.9,1)" fill="#000" style="color:#000" text-anchor="start">1.31180</text>
<rect x="755" y="210" width="2" height="1" fill="#000"/>
<text transform="translate(760,214) scale(0.9,1)" fill="#000" style="color:#000" text-anchor="start">1.30950</text>
<rect x="755" y="243" width="2" height="1" fill="#000"/>
<text transform="translate(760,247) scale(0.9,1)" fill="#000" style="color:#000" text-anchor="start">1.30725</text>
<rect x="755" y="276" width="2" height="1" fill="#000"/>
<text transform="translate(760,280) scale(0.9,1)" fill="#000" style="color:#000" text-anchor="start">1.30500</text>
<rect x="755" y="309" width="2" height="1" fill="#000"/>
<text transform="translate(760,313) scale(0.9,1)" fill="#000" style="color:#000" text-anchor="start">1.30270</text>
<rect x="755" y="342" width="2" height="1" fill="#000"/>
<text transform="translate(760,346) scale(0.9,1)" fill="#000" style="color:#000" text-anchor="start">1.30045</text>
<rect x="755" y="375" width="2" height="1" fill="#000"/>
<text transform="translate(760,379) scale(0.9,1)" fill="#000" style="color:#000" text-anchor="start">1.29820</text>
<rect x="755" y="408" width="2" height="1" fill="#000"/>
<text transform="translate(760,412) scale(0.9,1)" fill="#000" style="color:#000" text-anchor="start">1.29595</text>
<rect x="755" y="441" width="2" height="1" fill="#000"/>
<text transform="translate(760,445) scale(0.9,1)" fill="#000" style="color:#000" text-anchor="start">1.29365</text>
<rect x="756" y="30" width="41" height="11" fill="#006400"/>
<text transform="translate(760,39) scale(0.9,1)" fill="#fff" style="color:#fff" text-anchor="start">1.32150</text>
<rect x="756" y="143" width="41" height="11" fill="#006400"/>
<text transform="translate(760,152) scale(0.9,1)" fill="#fff" style="color:#fff" text-anchor="start">1.31370</text>
<rect x="756" y="228" width="41" height="11" fill="#006400"/>
<text transform="translate(760,237) scale(0.9,1)" fill="#fff" style="color:#fff" text-anchor="start">1.30790</text>
<rect x="756" y="312" width="41" height="11" fill="#000"/>
<text transform="translate(760,321) scale(0.9,1)" fill="#fff" style="color:#fff" text-anchor="start">1.30219</text>
<rect x="756" y="360" width="41" height="11" fill="#FF0000"/>
<text transform="translate(760,369) scale(0.9,1)" fill="#fff" style="color:#fff" text-anchor="start">1.29880</text>
<rect x="756" y="387" width="41" height="11" fill="#FF0000"/>
<text transform="translate(760,396) scale(0.9,1)" fill="#fff" style="color:#fff" text-anchor="start">1.29700</text>
<rect x="756" y="421" width="41" height="11" fill="#FF0000"/>
<text transform="translate(760,430) scale(0.9,1)" fill="#fff" style="color:#fff" text-anchor="start">1.29460</text>
<rect x="755" y="448" width="1" height="1" fill="#000"/>
<text transform="translate(758,457) scale(0.9,1)" fill="#000" style="color:#000" text-anchor="start">0.0062730</text>
<rect x="755" y="523" width="2" height="1" fill="#000"/>
<text transform="translate(758,527) scale(0.9,1)" fill="#000" style="color:#000" text-anchor="start">0.00</text>
<rect x="755" y="573" width="2" height="1" fill="#000"/>
<text transform="translate(758,576) scale(0.9,1)" fill="#000" style="color:#000" text-anchor="start">-0.0046309</text>
<rect x="3" y="580" width="1" height="3" fill="#000"/>
<text transform="translate(3,592) scale(0.9,1)" fill="#000" style="color:#000" text-anchor="start">17 Jan 2020</text>
<rect x="67" y="580" width="1" height="3" fill="#000"/>
<text transform="translate(67,592) scale(0.9,1)" fill="#000" style="color:#000" text-anchor="start">20 Jan 11:00</text>
<rect x="131" y="580" width="1" height="3" fill="#000"/>
<text transform="translate(131,592) scale(0.9,1)" fill="#000" style="color:#000" text-anchor="start">21 Jan 03:00</text>
<rect x="195" y="580" width="1" height="3" fill="#000"/>
<text transform="translate(195,592) scale(0.9,1)" fill="#000" style="color:#000" text-anchor="start">21 Jan 19:00</text>
<rect x="259" y="580" width="1" height="3" fill="#000"/>
<text transform="translate(259,592) scale(0.9,1)" fill="#000" style="color:#000" text-anchor="start">22 Jan 11:00</text>
<rect x="323" y="580" width="1" height="3" fill="#000"/>
<text transform="translate(323,592) scale(0.9,1)" fill="#000" style="color:#000" text-anchor="start">23 Jan 03:00</text>
<rect x="387" y="580" width="1" height="3" fill="#000"/>
<text transform="translate(387,592) scale(0.9,1)" fill="#000" style="color:#000" text-anchor="start">23 Jan 19:00</text>
<rect x="451" y="580" width="1" height="3" fill="#000"/>
<text transform="translate(451,592) scale(0.9,1)" fill="#000" style="color:#000" text-anchor="start">24 Jan 11:00</text>
<rect x="515" y="580" width="1" height="3" fill="#000"/>
<text transform="translate(515,592) scale(0.9,1)" fill="#000" style="color:#000" text-anchor="start">27 Jan 03:00</text>
<rect x="579" y="580" width="1" height="3" fill="#000"/>
<text transform="translate(579,592) scale(0.9,1)" fill="#000" style="color:#000" text-anchor="start">27 Jan 19:00</text>
<rect x="643" y="580" width="1" height="3" fill="#000"/>
<text transform="translate(643,592) scale(0.9,1)" fill="#000" style="color:#000" text-anchor="start">28 Jan 11:00</text>
<rect x="707" y="580" width="1" height="3" fill="#000"/>
<text transform="translate(707,592) scale(0.9,1)" fill="#000" style="color:#000" text-anchor="start">29 Jan 03:00</text>
<rect x="6" y="9" width="7" height="1" fill="#000"/>
<rect x="7" y="10" width="5" height="1" fill="#000"/>
<rect x="8" y="11" width="3" height="1" fill="#000"/>
<rect x="9" y="12" width="1" height="1" fill="#000"/>
<text transform="translate(18.5,14) scale(0.9,1)" fill="#000" style="color:#000" text-anchor="start">GBPUSD,H1</text>
<text transform="translate(79,14) scale(0.9,1)" fill="#000" style="color:#000" text-anchor="start">1.30244</text>
<text transform="translate(115,14) scale(0.9,1)" fill="#000" style="color:#000" text-anchor="start">1.30249</text>
<text transform="translate(150.6,14) scale(0.9,1)" fill="#000" style="color:#000" text-anchor="start">1.30209</text>
<text transform="translate(186.6,14) scale(0.9,1)" fill="#000" style="color:#000" text-anchor="start">1.30219</text>
<text transform="translate(7.8,459) scale(0.9,1)" fill="#000" style="color:#000" text-anchor="start">MACD_color(5,34,5)</text>
<text transform="translate(95,459) scale(0.9,1)" fill="#000" style="color:#000" text-anchor="start">0.00000000</text>
<text transform="translate(146,459) scale(0.9,1)" fill="#000" style="color:#000" text-anchor="start">0.00000000</text>
<text transform="translate(197,459) scale(0.9,1)" fill="#000" style="color:#000" text-anchor="start">-0.00082469</text>
</svg>
</body></html>
